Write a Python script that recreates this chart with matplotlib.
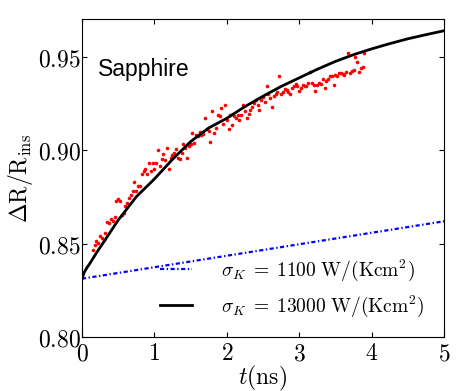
"""
Transient reflectivity of sapphire: measured points and two model curves
for different Kapitza conductance values.
"""

import numpy as np
import matplotlib
matplotlib.use("Agg")
import matplotlib.pyplot as plt
from matplotlib.ticker import FuncFormatter

plt.rcParams['mathtext.fontset'] = 'cm'
plt.rcParams['lines.scale_dashes'] = False

# measured data (time grid start/step, one value per sample)
t_start = 0.15
t_step = 0.025
dR_meas = [
    0.8466, 0.8490, 0.8512, 0.8505, 0.8540, 0.8528, 0.8520, 0.8556, 0.8613, 0.8612,
    0.8630, 0.8618, 0.8640, 0.8730, 0.8740, 0.8725, 0.8650, 0.8662, 0.8700, 0.8715,
    0.8746, 0.8760, 0.8780, 0.8830, 0.8780, 0.8810, 0.8810, 0.8870, 0.8890, 0.8900,
    0.8870, 0.8930, 0.8890, 0.8932, 0.8897, 0.8932, 0.9000, 0.8915, 0.8950, 0.8980,
    0.8945, 0.9010, 0.8900, 0.8960, 0.8975, 0.8986, 0.9005, 0.8960, 0.8950, 0.8985,
    0.9030, 0.9010, 0.8960, 0.9020, 0.9035, 0.9092, 0.9040, 0.9080, 0.9075, 0.9095,
    0.9080, 0.9085, 0.9170, 0.9110, 0.9100, 0.9044, 0.9210, 0.9090, 0.9120, 0.9190,
    0.9180, 0.9226, 0.9140, 0.9240, 0.9160, 0.9110, 0.9190, 0.9133, 0.9180, 0.9170,
    0.9185, 0.9163, 0.9190, 0.9240, 0.9210, 0.9170, 0.9195, 0.9215, 0.9230, 0.9250,
    0.9265, 0.9240, 0.9216, 0.9270, 0.9285, 0.9255, 0.9340, 0.9300, 0.9280, 0.9230,
    0.9290, 0.9300, 0.9310, 0.9394, 0.9300, 0.9310, 0.9325, 0.9320, 0.9310, 0.9300,
    0.9330, 0.9340, 0.9355, 0.9345, 0.9314, 0.9330, 0.9350, 0.9340, 0.9340, 0.9360,
    0.9420, 0.9360, 0.9350, 0.9314, 0.9350, 0.9360, 0.9355, 0.9380, 0.9330, 0.9370,
    0.9380, 0.9395, 0.9395, 0.9350, 0.9400, 0.9395, 0.9410, 0.9410, 0.9405, 0.9400,
    0.9420, 0.9520, 0.9410, 0.9425, 0.9430, 0.9500, 0.9473, 0.9420, 0.9440, 0.9445,
    0.9520,
]

# model, sigma_K = 13000 W/(Kcm^2)
t_fit = [0.0, 0.03, 0.07, 0.1, 0.2, 0.3, 0.5, 0.75, 1.0, 1.25, 1.5, 1.75, 2.0,
         2.25, 2.5, 2.75, 3.0, 3.25, 3.5, 3.75, 4.0, 4.25, 4.5, 4.75, 5.0]
dR_fit_high = [0.8312, 0.8345, 0.8372, 0.8388, 0.8450, 0.8508, 0.8625, 0.8750,
               0.8845, 0.8950, 0.9045, 0.9118, 0.9170, 0.9232, 0.9288, 0.9340,
               0.9386, 0.9432, 0.9474, 0.9510, 0.9541, 0.9569, 0.9595, 0.9617,
               0.9638]

# model, sigma_K = 1100 W/(Kcm^2)
t_fit_low = [0.0, 5.0]
dR_fit_low = [0.8312, 0.8619]

t_meas = t_start + t_step * np.arange(len(dR_meas))

fig = plt.figure(figsize=(4.63, 3.91), dpi=100)
ax = fig.add_axes([0.177, 0.138, 0.782, 0.813])

ax.plot(t_meas, dR_meas, 'o', color='red', ms=2.6, mew=0)
ax.plot(t_fit_low, dR_fit_low, color='blue', lw=1.6, dashes=(3, 1.8, 1, 1.8),
        label=r'$\sigma_K\;=\;1100\ \mathrm{W/(Kcm^2)}$')
ax.plot(t_fit, dR_fit_high, color='black', lw=2.0,
        label=r'$\sigma_K\;=\;13000\ \mathrm{W/(Kcm^2)}$')

ax.set_xlim(0, 5)
ax.set_ylim(0.80, 0.97)
ax.set_xticks([0, 1, 2, 3, 4, 5])
ax.set_yticks([0.80, 0.85, 0.90, 0.95])
ax.xaxis.set_major_formatter(FuncFormatter(lambda v, p: r'$%g$' % v))
ax.yaxis.set_major_formatter(FuncFormatter(lambda v, p: r'$%.2f$' % v))
ax.tick_params(direction='in', top=True, right=True, length=3.5, width=0.8,
               labelsize=17)
ax.tick_params(axis='x', pad=3)
ax.tick_params(axis='y', pad=1)
for s in ax.spines.values():
    s.set_linewidth(0.8)

ax.set_xlabel(r'$t(\mathrm{ns})$', fontsize=17, labelpad=-1)
ax.set_ylabel(r'$\Delta \mathrm{R}/\mathrm{R}_{\mathrm{ins}}$', fontsize=17, labelpad=2)

ax.text(0.044, 0.82, 'Sapphire', transform=ax.transAxes, fontsize=16.5,
        family='Liberation Sans')

ax.legend(loc='lower right', bbox_to_anchor=(0.995, 0.003), frameon=False,
          fontsize=14, handlelength=1.65, handletextpad=1.5, labelspacing=0.5)

fig.savefig('out.png', dpi=100)
